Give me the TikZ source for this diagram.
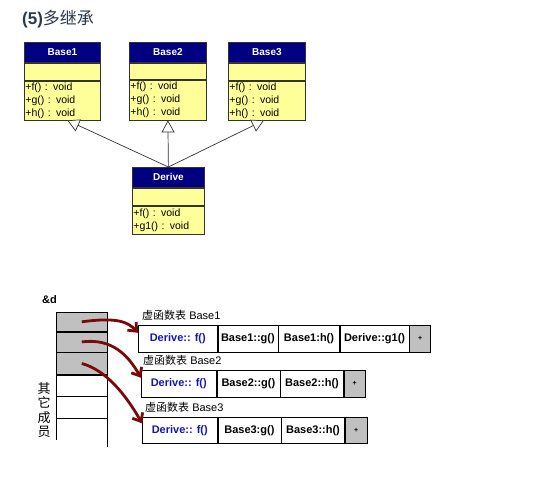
\documentclass[tikz,border=0pt]{standalone}
\usepackage{fontspec}
\setmainfont{Liberation Sans}
\newfontfamily\cjk{Noto Sans CJK SC}
\usetikzlibrary{arrows.meta}
\definecolor{umlnavy}{HTML}{000080}
\definecolor{umlyellow}{HTML}{FFFF99}
\definecolor{umlline}{HTML}{333333}
\definecolor{titlecol}{HTML}{2B3A4A}
\definecolor{fblue}{HTML}{1515B5}
\definecolor{memgrey}{HTML}{C0C0C0}
\definecolor{ptrred}{HTML}{7A0A0A}
\begin{document}
\begin{tikzpicture}[x=1pt,y=-1pt,
  umlhdr/.style={draw=umlline, fill=umlnavy, text=white, font=\fontsize{10}{12}\selectfont\bfseries, inner sep=0pt, anchor=north west, line width=0.8pt},
  umlcmp/.style={draw=umlline, fill=umlyellow, inner sep=0pt, anchor=north west, line width=0.8pt},
  umlmeth/.style={umlcmp, font=\fontsize{10.5}{13}\selectfont, align=left, text width=#1, inner xsep=1pt},
  inh/.style={draw=umlline, line width=0.7pt, -{Triangle[open, length=12pt, width=13pt, fill=white]}},
  vcell/.style={draw=black, fill=white, minimum height=27pt, inner sep=0pt, anchor=north west, font=\fontsize{11}{13}\selectfont\bfseries, line width=0.6pt},
  vend/.style={vcell, fill=memgrey, font=\fontsize{7}{8}\selectfont\bfseries},
  vlabel/.style={anchor=west, inner sep=0pt, font=\fontsize{11}{13}\selectfont},
  mem/.style={draw=black, inner sep=0pt, minimum width=51pt, anchor=north west, line width=0.6pt},
  ptr/.style={draw=ptrred, line width=2.8pt, -{Straight Barb[length=7pt, width=12pt]}}
]
\useasboundingbox (0,0) rectangle (551,478);

% title
\node[anchor=west, inner sep=0pt, text=titlecol] (title) at (22,19)
  {\fontsize{17}{19}\selectfont\bfseries (5)\cjk\mdseries 多继承};

% Base1
\node[umlhdr, minimum width=76pt, minimum height=20pt] (b1h) at (24,42) {Base1};
\node[umlcmp, minimum width=76pt, minimum height=17pt] (b1a) at (b1h.south west) {};
\node[umlmeth=74pt, minimum height=39pt] (b1m) at (b1a.south west) {+f() : void\\+g() : void\\+h() : void};
% Base2
\node[umlhdr, minimum width=77pt, minimum height=20pt] (b2h) at (129,42) {Base2};
\node[umlcmp, minimum width=77pt, minimum height=16pt] (b2a) at (b2h.south west) {};
\node[umlmeth=75pt, minimum height=40pt] (b2m) at (b2a.south west) {+f() : void\\+g() : void\\+h() : void};
% Base3
\node[umlhdr, minimum width=77pt, minimum height=20pt] (b3h) at (228,42) {Base3};
\node[umlcmp, minimum width=77pt, minimum height=17pt] (b3a) at (b3h.south west) {};
\node[umlmeth=75pt, minimum height=39pt] (b3m) at (b3a.south west) {+f() : void\\+g() : void\\+h() : void};
% Derive
\node[umlhdr, minimum width=72pt, minimum height=20pt] (dvh) at (132,167) {Derive};
\node[umlcmp, minimum width=72pt, minimum height=17pt] (dva) at (dvh.south west) {};
\node[umlmeth=70pt, minimum height=28pt] (dvm) at (dva.south west) {+f() : void\\+g1() : void};

\draw[inh] (dvh.north) -- ([xshift=5pt]b1m.south);
\draw[inh] (dvh.north) -- (b2m.south);
\draw[inh] (dvh.north) -- ([xshift=-3pt]b3m.south);

% object memory
\node[anchor=west, inner sep=0pt, font=\fontsize{11}{13}\selectfont\bfseries] (amp) at (42,300) {\&d};
\node[mem, fill=memgrey, minimum height=19pt] (m1) at (56,312) {};
\node[mem, fill=memgrey, minimum height=20pt] (m2) at (m1.south west) {};
\node[mem, fill=memgrey, minimum height=22pt] (m3) at (m2.south west) {};
\node[mem, minimum height=21pt] (m4) at (m3.south west) {};
\node[mem, minimum height=22pt] (m5) at (m4.south west) {};
\draw[line width=0.6pt] (m5.south west) -- ++(0,21);
\draw[line width=0.6pt] (m5.south east) -- ++(0,28);
\node[inner sep=0pt, align=center, font=\cjk\fontsize{13}{14.5}\selectfont] (other) at (44,410) {其\\它\\成\\员};

% vtable 1
\node[vlabel] (l1) at (142,315) {{\cjk 虚函数表} Base1};
\node[vcell, minimum width=79pt, text=fblue] (v11) at (138,325) {Derive:: f()};
\node[vcell, minimum width=60pt] (v12) at (v11.north east) {Base1::g()};
\node[vcell, minimum width=61pt] (v13) at (v12.north east) {Base1:h()};
\node[vcell, minimum width=69pt] (v14) at (v13.north east) {Derive::g1()};
\node[vend, minimum width=21pt] (v15) at (v14.north east) {+};
% vtable 2
\node[vlabel] (l2) at (143,360) {{\cjk 虚函数表} Base2};
\node[vcell, minimum width=75pt, text=fblue] (v21) at (141,370) {Derive:: f()};
\node[vcell, minimum width=63pt] (v22) at (v21.north east) {Base2::g()};
\node[vcell, minimum width=63pt] (v23) at (v22.north east) {Base2::h()};
\node[vend, minimum width=21pt] (v24) at (v23.north east) {+};
% vtable 3
\node[vlabel] (l3) at (145,407) {{\cjk 虚函数表} Base3};
\node[vcell, minimum width=75pt, minimum height=26pt, text=fblue] (v31) at (142,417) {Derive:: f()};
\node[vcell, minimum width=63pt, minimum height=26pt] (v32) at (v31.north east) {Base3:g()};
\node[vcell, minimum width=63pt, minimum height=26pt] (v33) at (v32.north east) {Base3::h()};
\node[vend, minimum width=22pt, minimum height=26pt] (v34) at (v33.north east) {+};

% pointers
\draw[ptr] (m1.center) .. controls (118,317) and (128,322) .. ([yshift=6pt]v11.west);
\draw[ptr] (m2.center) .. controls (112,338) and (128,355) .. ([yshift=6pt]v21.west);
\draw[ptr] (m3.center) .. controls (106,370) and (126,395) .. ([yshift=7pt]v31.west);
\end{tikzpicture}
\end{document}
